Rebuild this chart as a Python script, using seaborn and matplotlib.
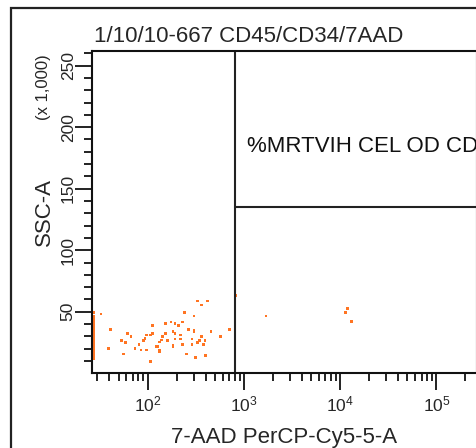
import matplotlib
matplotlib.use("Agg")
import matplotlib.pyplot as plt
import seaborn as sns
import pandas as pd
import numpy as np
from matplotlib.patches import Rectangle
from matplotlib.ticker import FixedLocator, NullFormatter

sns.set_style("white")
plt.rcParams['font.family'] = ['Liberation Sans', 'DejaVu Sans']
plt.rcParams['mathtext.fontset'] = 'custom'
plt.rcParams['mathtext.rm'] = 'Liberation Sans'

# ---- data (7-AAD PerCP-Cy5-5-A, SSC-A x1000) ----
edge_x = [27.5] * 24
edge_y = [12, 13.5, 15, 16.5, 18, 19.5, 21, 22.5, 24, 25.5, 27, 28.5,
          30, 31.5, 33, 34.5, 36, 37.5, 39, 40.5, 42, 44, 46, 49.5]
pts_x = [32.7, 40.9, 39.0, 53.7, 59.1, 62.0, 56.4, 67.1, 73.9, 81.3, 85.2, 90.1,
         93.8, 97.7, 96.8, 106.5, 106.5, 111.7, 111.7, 122.9, 127.1, 133.4, 133.4,
         133.4, 139.9, 141.9, 152.4, 152.4, 161.4, 174.8, 183.4, 183.4, 183.4,
         192.3, 192.3, 192.3, 210.2, 220.4, 220.4, 231.2, 240.3, 231.2, 252.0,
         264.3, 288.8, 288.8, 302.9, 302.9, 302.9, 315.5, 331.1, 331.1, 347.2,
         360.7, 360.7, 378.4, 394.1, 397.0, 416.4, 455.0, 568.4, 711.8, 821.6,
         1696, 11307, 11858, 13050]
pts_y = [48.2, 35.8, 20.3, 26.5, 24.9, 32.5, 15.7, 29.7, 20.3, 23.6, 18.9, 26.5,
         28.1, 31.1, 18.9, 9.8, 31.1, 32.5, 39.0, 21.6, 21.6, 18.9, 17.6,
         25.4, 27.1, 29.7, 32.5, 40.6, 26.5, 41.7, 33.8, 23.0, 21.6,
         40.6, 32.5, 27.9, 39.0, 31.1, 27.9, 41.7, 49.6, 23.6, 15.7,
         35.8, 27.9, 23.6, 46.6, 35.2, 33.8, 12.7, 58.7, 25.2, 26.5,
         55.5, 29.7, 23.6, 26.5, 14.3, 58.7, 33.8, 29.7, 35.8, 63.4,
         46.6, 49.6, 52.8, 41.9]

x_major = [1e2, 1e3, 1e4, 1e5]
x_major_labels = ['$\\mathrm{10^{2}}$', '$\\mathrm{10^{3}}$', '$\\mathrm{10^{4}}$', '$\\mathrm{10^{5}}$']
y_major = [50, 100, 150, 200, 250]
y_major_labels = ['50', '100', '150', '200', '250']

x_min, x_max = 26.2144, 262144
y_min, y_max = 0, 262.144
gate_x = 808
gate_y = 134.9
title = "1/10/10-667 CD45/CD34/7AAD"
xlabel = "7-AAD PerCP-Cy5-5-A"
ylabel = "SSC-A"
yunit = "(x 1,000)"
quad_label = "%MRTVIH CEL OD CD"

df = pd.DataFrame({"x": edge_x + pts_x, "y": edge_y + pts_y})

fig = plt.figure(figsize=(4.77, 4.48), dpi=100)
ax = fig.add_axes([91.7/477, 74.7/448, 385/477, 322.6/448])

# outer frame
fig.patches.append(Rectangle((11/477, -0.2), 1.2, 0.2 + (448-8)/448,
                             transform=fig.transFigure, fill=False,
                             edgecolor='#222222', linewidth=1.6, figure=fig))

sns.scatterplot(data=df, x="x", y="y", ax=ax, marker='s', s=4,
                color='#FF7422', edgecolor='none', linewidth=0)

ax.set_xscale('log')
ax.set_xlim(x_min, x_max)
ax.set_ylim(y_min, y_max)

# quadrant gates
ax.axvline(gate_x, color='#222222', linewidth=1.5)
ax.plot([gate_x, x_max], [gate_y, gate_y], color='#222222', linewidth=1.5)
ax.text(1076, 184.3, quad_label, fontsize=16, va='center', ha='left',
        clip_on=True, color='#111111')

# ticks
ax.xaxis.set_major_locator(FixedLocator(x_major))
ax.set_xticklabels(x_major_labels)
x_minor = [m * 10**k for k in range(1, 6) for m in range(2, 10)]
x_minor = [v for v in x_minor if x_min <= v <= x_max]
ax.xaxis.set_minor_locator(FixedLocator(x_minor))
ax.xaxis.set_minor_formatter(NullFormatter())

ax.yaxis.set_major_locator(FixedLocator(y_major))
ax.set_yticklabels(y_major_labels, rotation=90, va='center')
ax.yaxis.set_minor_locator(FixedLocator(list(range(10, 261, 10))))

ax.tick_params(axis='both', which='major', direction='out', length=12.5, width=1.3,
               labelsize=12.5, color='#111111', bottom=True, left=True)
ax.tick_params(axis='both', which='minor', direction='out', length=6, width=1.3,
               color='#111111', bottom=True, left=True)
ax.tick_params(axis='x', which='major', pad=3)
ax.tick_params(axis='y', which='major', pad=-1)

for s in ax.spines.values():
    s.set_color('#111111')
    s.set_linewidth(1.5)

ax.set_xlabel(xlabel, fontsize=16, labelpad=9)
ax.set_ylabel(ylabel, fontsize=16, labelpad=4)
fig.text(44/477, 1 - 87/448, yunit, rotation=90, fontsize=12, ha='center', va='center')
fig.text(249/477, 1 - 36/448, title, fontsize=16, ha='center', va='center')

fig.savefig("out.png", dpi=100)
